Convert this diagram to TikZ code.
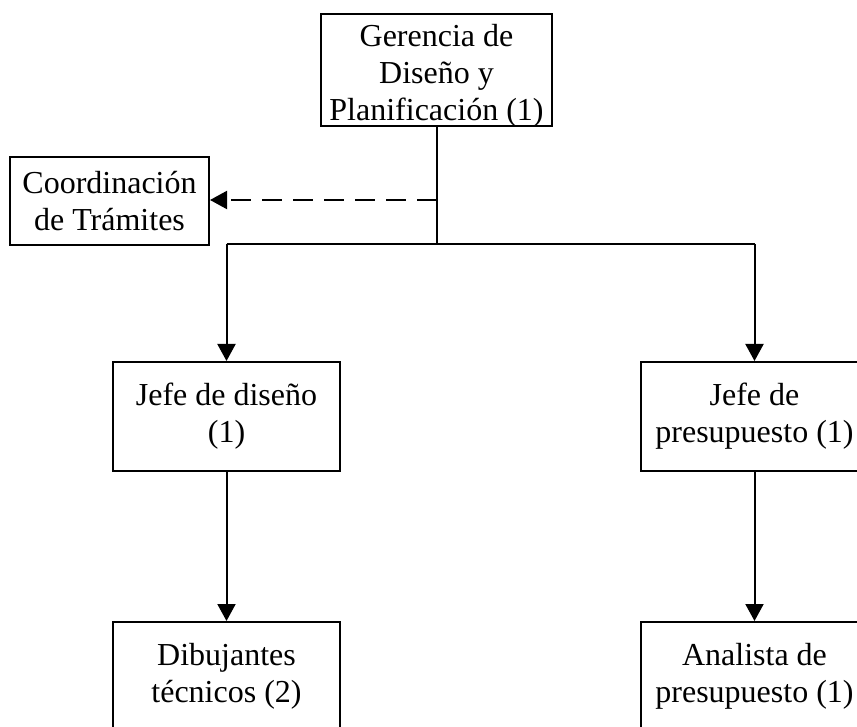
\documentclass[tikz,border=0pt]{standalone}
\usepackage{fontspec}
\setmainfont{Liberation Serif}
\usepackage{tikz}
\usetikzlibrary{positioning,arrows.meta}
\tikzstyle{box} = [draw,line width=2pt,rectangle,align=center,inner sep=2pt,minimum width=227pt,minimum height=109pt,font=\fontsize{32}{37}\selectfont]
\tikzstyle{arrow} = [line width=2pt,-{Triangle[length=17pt,width=18pt]}]
\tikzstyle{line} = [line width=2pt]

\begin{document}
\begin{tikzpicture}[x=1pt,y=-1pt]
    \useasboundingbox (0,0) rectangle (857,727);
    \node[box,minimum width=231pt,minimum height=112pt,inner ysep=0pt] (gerencia) at (436.5,70) {\rule{0pt}{28pt}Gerencia de\\Diseño y\\\raisebox{0pt}[\height][0pt]{Planificación (1)}};
    \node[box,minimum width=199pt,minimum height=88pt] (coord) at (109.5,201) {Coordinación\\de Trámites};
    \node[box] (jdiseno) at (226.5,416.5) {Jefe de diseño\\(1)};
    \node[box] (jpres) at (754.5,416.5) {Jefe de\\presupuesto (1)};
    \node[box] (dibuj) at (226.5,676.5) {Dibujantes\\técnicos (2)};
    \node[box] (analista) at (754.5,676.5) {Analista de\\presupuesto (1)};

    \coordinate (rama) at (436.5,244);
    \coordinate (punteo) at (436.5,200);
    \draw[line] (gerencia.south) -- (rama);
    \draw[arrow,dash pattern=on 20pt off 11pt] (punteo) -- (coord.east |- punteo);
    \draw[line] (jdiseno |- rama) -- (jpres |- rama);
    \draw[arrow] (jdiseno |- rama) -- (jdiseno.north);
    \draw[arrow] (jpres |- rama) -- (jpres.north);
    \draw[arrow] (jdiseno.south) -- (dibuj.north);
    \draw[arrow] (jpres.south) -- (analista.north);
\end{tikzpicture}
\end{document}
